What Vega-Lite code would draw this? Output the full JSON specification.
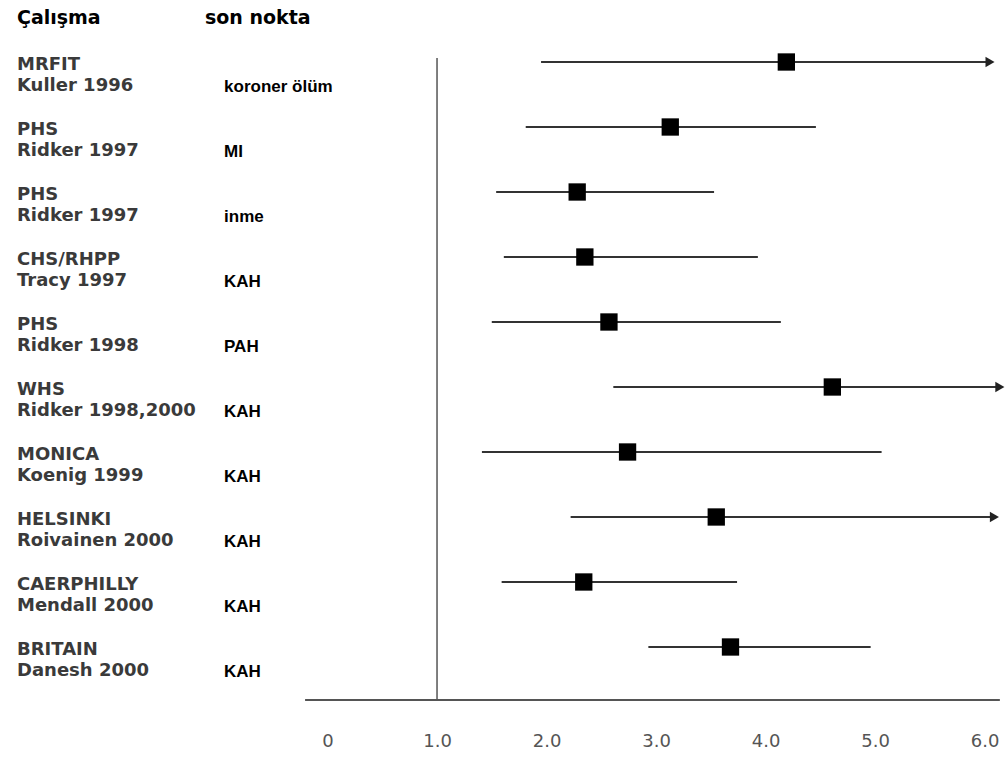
{
  "$schema": "https://vega.github.io/schema/vega-lite/v6.json",
  "width": 1006,
  "height": 700,
  "autosize": {"type": "none"},
  "padding": {"left": 0, "right": 0, "top": 0, "bottom": 61},
  "background": "white",
  "config": {"view": {"stroke": null}},
  "data": {
    "values": [
      {"row": 1, "study": "MRFIT\nKuller 1996", "endpoint": "koroner ölüm", "or": 4.19, "lo": 1.95, "hi": 6.05, "arrow": true},
      {"row": 2, "study": "PHS\nRidker 1997", "endpoint": "MI", "or": 3.13, "lo": 1.81, "hi": 4.46, "arrow": false},
      {"row": 3, "study": "PHS\nRidker 1997", "endpoint": "inme", "or": 2.28, "lo": 1.54, "hi": 3.53, "arrow": false},
      {"row": 4, "study": "CHS/RHPP\nTracy 1997", "endpoint": "KAH", "or": 2.35, "lo": 1.61, "hi": 3.93, "arrow": false},
      {"row": 5, "study": "PHS\nRidker 1998", "endpoint": "PAH", "or": 2.57, "lo": 1.5, "hi": 4.14, "arrow": false},
      {"row": 6, "study": "WHS\nRidker 1998,2000", "endpoint": "KAH", "or": 4.61, "lo": 2.61, "hi": 6.14, "arrow": true},
      {"row": 7, "study": "MONICA\nKoenig 1999", "endpoint": "KAH", "or": 2.74, "lo": 1.41, "hi": 5.06, "arrow": false},
      {"row": 8, "study": "HELSINKI\nRoivainen 2000", "endpoint": "KAH", "or": 3.55, "lo": 2.22, "hi": 6.09, "arrow": true},
      {"row": 9, "study": "CAERPHILLY\nMendall 2000", "endpoint": "KAH", "or": 2.34, "lo": 1.59, "hi": 3.74, "arrow": false},
      {"row": 10, "study": "BRITAIN\nDanesh 2000", "endpoint": "KAH", "or": 3.68, "lo": 2.93, "hi": 4.96, "arrow": false}
    ]
  },
  "layer": [
    {
      "mark": {"type": "rule", "color": "#333333", "strokeWidth": 1.8, "yOffset": -4},
      "encoding": {
        "x": {
          "field": "lo", "type": "quantitative",
          "scale": {"domain": [-2.991, 6.196], "nice": false, "zero": false},
          "axis": {
            "values": [0, 1, 2, 3, 4, 5, 6],
            "domain": false, "ticks": false, "grid": false, "title": null,
            "labelExpr": "datum.value == 0 ? '0' : format(datum.value, '.1f')",
            "labelFont": "DejaVu Sans", "labelFontSize": 18, "labelColor": "#555555",
            "labelPadding": 32, "labelFlush": false
          }
        },
        "x2": {"field": "hi"},
        "y": {
          "field": "row", "type": "quantitative",
          "scale": {"domain": [-0.0154, 10.754], "reverse": true, "nice": false, "zero": false},
          "axis": null
        }
      }
    },
    {
      "transform": [{"filter": "datum.arrow"}],
      "mark": {"type": "point", "shape": "triangle-right", "filled": true, "color": "#222222", "size": 110, "opacity": 1, "yOffset": -4},
      "encoding": {
        "x": {"field": "hi", "type": "quantitative"},
        "y": {"field": "row", "type": "quantitative"}
      }
    },
    {
      "mark": {"type": "point", "shape": "square", "filled": true, "color": "#000000", "size": 300, "opacity": 1, "yOffset": -4},
      "encoding": {
        "x": {"field": "or", "type": "quantitative"},
        "y": {"field": "row", "type": "quantitative"}
      }
    },
    {
      "mark": {"type": "text", "align": "left", "baseline": "top", "dy": -10, "lineBreak": "\n", "lineHeight": 21, "font": "DejaVu Sans", "fontWeight": "bold", "fontSize": 18, "color": "#3a3a3a"},
      "encoding": {
        "x": {"datum": -2.836, "type": "quantitative"},
        "y": {"field": "row", "type": "quantitative"},
        "text": {"field": "study"}
      }
    },
    {
      "mark": {"type": "text", "align": "left", "baseline": "middle", "dy": 21, "font": "Liberation Sans", "fontWeight": "bold", "fontSize": 17, "color": "#000000"},
      "encoding": {
        "x": {"datum": -0.945, "type": "quantitative"},
        "y": {"field": "row", "type": "quantitative"},
        "text": {"field": "endpoint"}
      }
    },
    {
      "data": {"values": [{"header": "Çalışma"}]},
      "mark": {"type": "text", "align": "left", "baseline": "middle", "font": "DejaVu Sans", "fontWeight": "bold", "fontSize": 19, "color": "#000000"},
      "encoding": {
        "x": {"datum": -2.836, "type": "quantitative"},
        "y": {"datum": 0.2615, "type": "quantitative"},
        "text": {"field": "header"}
      }
    },
    {
      "data": {"values": [{"header": "son nokta"}]},
      "mark": {"type": "text", "align": "left", "baseline": "middle", "font": "DejaVu Sans", "fontWeight": "bold", "fontSize": 19, "color": "#000000"},
      "encoding": {
        "x": {"datum": -1.119, "type": "quantitative"},
        "y": {"datum": 0.2615, "type": "quantitative"},
        "text": {"field": "header"}
      }
    },
    {
      "data": {"values": [{"ref": 1}]},
      "mark": {"type": "rule", "color": "#555555", "strokeWidth": 1.5},
      "encoding": {
        "x": {"field": "ref", "type": "quantitative"},
        "y": {"datum": 0.877, "type": "quantitative"},
        "y2": {"datum": 10.754}
      }
    },
    {
      "data": {"values": [{"start": -0.205, "end": 6.14}]},
      "mark": {"type": "rule", "color": "#555555", "strokeWidth": 2.2},
      "encoding": {
        "x": {"field": "start", "type": "quantitative"},
        "x2": {"field": "end"},
        "y": {"datum": 10.754, "type": "quantitative"}
      }
    }
  ]
}
